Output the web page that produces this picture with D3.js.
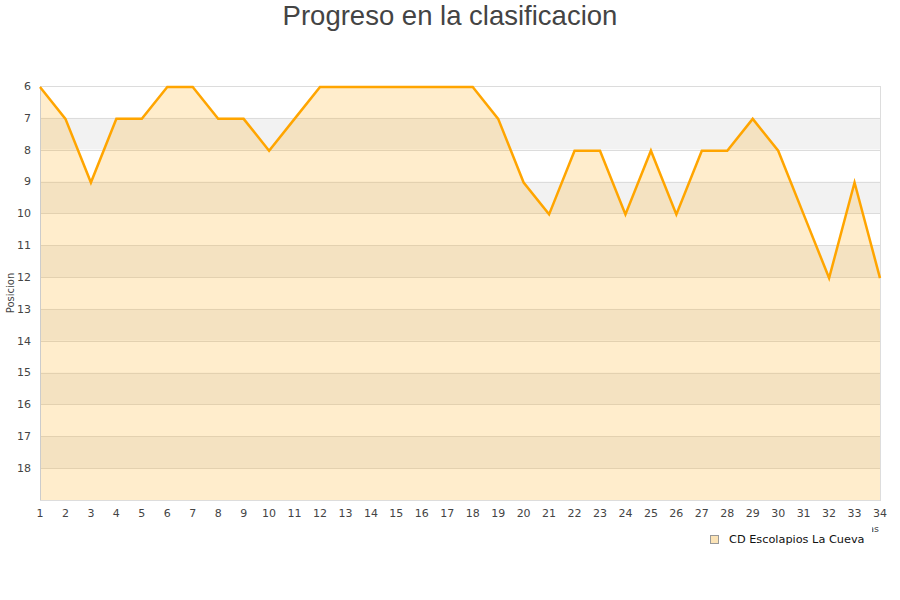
<!DOCTYPE html>
<html><head><meta charset="utf-8">
<script src="https://cdn.jsdelivr.net/npm/d3@7"></script>
<style>body{margin:0;background:#fff}svg{display:block}</style>
</head><body><svg id="c" width="900" height="600"></svg>
<script>
const jornadas = d3.range(1, 35);
const posiciones = [6,7,9,7,7,6,6,7,7,8,7,6,6,6,6,6,6,6,7,9,10,8,8,10,8,10,8,8,7,8,10,12,9,12];
const yTicks = [6,7,8,9,10,11,12,13,14,15,16,17,18];
const seriesName = "CD Escolapios La Cueva";
const title = "Progreso en la clasificacion";

const svg = d3.select("#c");
const L = 40, R = 880, T = 86, B = 500;
const x = d3.scaleLinear().domain([1, 34]).range([L, R]);
const y = d3.scaleLinear().domain([6, 19]).range([T, B]);

// alternating bands
const bands = d3.range(6, 19);
svg.selectAll("rect.band").data(bands).enter().append("rect")
  .attr("x", L).attr("width", R - L)
  .attr("y", d => y(d)).attr("height", d => y(d + 1) - y(d))
  .attr("fill", d => (d % 2 === 1) ? "#f2f2f2" : "#ffffff");

// grid lines
svg.selectAll("line.grid").data(yTicks).enter().append("line")
  .attr("x1", L).attr("x2", R)
  .attr("y1", d => Math.round(y(d)) + 0.5).attr("y2", d => Math.round(y(d)) + 0.5)
  .attr("stroke", "#dcdcdc").attr("stroke-width", 1);

// area
const data = jornadas.map((j, i) => ({j, p: posiciones[i]}));
svg.append("path").datum(data)
  .attr("d", d3.area().x(d => x(d.j)).y0(y(19)).y1(d => y(d.p)))
  .attr("fill", "rgba(255,165,0,0.2)");

// plot border
svg.append("line").attr("x1", L + 0.5).attr("x2", L + 0.5).attr("y1", T).attr("y2", B + 0.5).attr("stroke", "#cccccc");
svg.append("line").attr("x1", R + 0.5).attr("x2", R + 0.5).attr("y1", T).attr("y2", B + 0.5).attr("stroke", "#dddddd");
svg.append("line").attr("x1", L).attr("x2", R + 1).attr("y1", B + 0.5).attr("y2", B + 0.5).attr("stroke", "#dddddd");

// line
svg.append("path").datum(data)
  .attr("d", d3.line().x(d => x(d.j)).y(d => y(d.p) + 1))
  .attr("fill", "none").attr("stroke", "#ffa500").attr("stroke-width", 2.5)
  .attr("stroke-linejoin", "miter");

// y tick labels
svg.selectAll("text.yt").data(yTicks).enter().append("text")
  .attr("x", 31).attr("y", d => y(d)).attr("dy", "0.35em")
  .attr("text-anchor", "end")
  .attr("font-family", "DejaVu Sans").attr("font-size", 11).attr("fill", "#444")
  .text(d => d);

// x tick labels
svg.selectAll("text.xt").data(jornadas).enter().append("text")
  .attr("x", d => x(d)).attr("y", 517)
  .attr("text-anchor", "middle")
  .attr("font-family", "DejaVu Sans").attr("font-size", 11).attr("fill", "#444")
  .text(d => d);

// axis titles
svg.append("text").attr("transform", "translate(14,293) rotate(-90)")
  .attr("text-anchor", "middle")
  .attr("font-family", "DejaVu Sans").attr("font-size", 10).attr("fill", "#444")
  .text("Posicion");
svg.append("text").attr("x", 879).attr("y", 532).attr("text-anchor", "end")
  .attr("font-family", "DejaVu Sans").attr("font-size", 9.5).attr("fill", "#444")
  .text("Jornadas");

// legend (covers most of the x title, as in reference)
svg.append("rect").attr("x", 700).attr("y", 523).attr("width", 172).attr("height", 28).attr("fill", "#fff");
svg.append("rect").attr("x", 710.5).attr("y", 535.5).attr("width", 8).attr("height", 8)
  .attr("fill", "#fbe3b6").attr("stroke", "#999");
svg.append("text").attr("x", 729).attr("y", 543)
  .attr("font-family", "DejaVu Sans").attr("font-size", 11.3).attr("fill", "#111")
  .text(seriesName);

// title
svg.append("text").attr("x", 450).attr("y", 25).attr("text-anchor", "middle")
  .attr("font-family", "Liberation Sans, Arial").attr("font-size", 27.5).attr("fill", "#444")
  .text(title);
</script></body></html>
